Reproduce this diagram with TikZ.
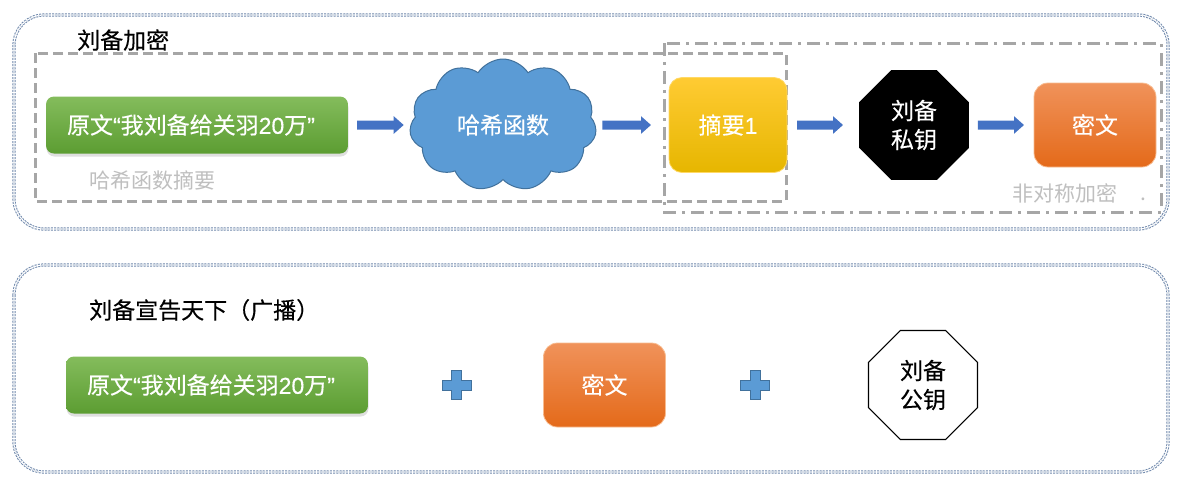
\documentclass[tikz,border=0pt]{standalone}
\usepackage{fontspec}
\setmainfont{Noto Sans CJK SC}[FakeBold=0.3]
\newfontfamily\lat{Liberation Sans}[FakeBold=0.3]
\newfontfamily\cjklight{Noto Sans CJK SC}
\usetikzlibrary{shapes.geometric,shapes.symbols,shadows,arrows.meta}
\definecolor{outerc}{HTML}{6F88AC}
\definecolor{grayline}{HTML}{A6A6A6}
\definecolor{arrowc}{HTML}{4472C4}
\definecolor{cloudfill}{HTML}{5B9BD5}
\definecolor{cloudline}{HTML}{41719C}
\definecolor{gtop}{HTML}{84BC5C}
\definecolor{gbot}{HTML}{5C9D32}
\definecolor{ytop}{HTML}{FFCB33}
\definecolor{ymid}{HTML}{FFC000}
\definecolor{ybot}{HTML}{E6B600}
\definecolor{yline}{HTML}{FFD966}
\definecolor{otop}{HTML}{F0925A}
\definecolor{omid}{HTML}{F07E2C}
\definecolor{obot}{HTML}{E46A1A}
\definecolor{oline}{HTML}{F8BC90}
\definecolor{labelc}{HTML}{BFBFBF}
\tikzset{
  outerbox/.style={draw=outerc, line width=1pt, double=white, double distance=1.2pt,
    dash pattern=on 2pt off 1.2pt, rounded corners=30pt},
  hashbox/.style={draw=grayline, line width=3pt, dash pattern=on 10pt off 5pt},
  asymbox/.style={draw=grayline, line width=3pt, dash pattern=on 13pt off 6pt on 3pt off 6pt},
  greenbox/.style={rounded corners=8pt, top color=gtop, bottom color=gbot, text=white,
    minimum width=302pt, minimum height=57pt, inner sep=0pt, outer sep=0pt,
    drop shadow={shadow xshift=0.5pt, shadow yshift=-3pt, opacity=0.25}},
  yellowbox/.style={rounded corners=13pt, top color=ytop, middle color=ymid, bottom color=ybot,
    draw=yline, line width=0.8pt, text=white, minimum width=118pt, minimum height=95pt,
    inner sep=0pt, outer sep=0pt},
  orangebox/.style={rounded corners=14pt, top color=otop, middle color=omid, bottom color=obot,
    draw=oline, line width=0.8pt, text=white, minimum width=122pt, minimum height=84pt,
    inner sep=0pt, outer sep=0pt},
  cloudnode/.style={cloud, cloud puffs=11, cloud puff arc=115, aspect=1.42,
    minimum width=187pt, minimum height=132pt, inner sep=0pt, outer sep=0pt,
    fill=cloudfill, draw=cloudline, line width=1pt, text=white},
  octblack/.style={regular polygon, regular polygon sides=8, minimum size=119pt,
    inner sep=0pt, outer sep=0pt, fill=black, text=white, align=center},
  octwhite/.style={regular polygon, regular polygon sides=8, minimum size=118pt,
    inner sep=0pt, outer sep=0pt, draw=black, line width=1.1pt, fill=white, text=black, align=center},
  barrow/.style={draw=arrowc, line width=9pt, -{Triangle[width=17pt,length=10pt]}},
  plusshape/.style={fill=cloudfill, draw=cloudline, line width=1pt},
  titletext/.style={text=black, inner sep=0pt, anchor=west},
  graylabel/.style={text=labelc, inner sep=0pt, font=\cjklight\fontsize{21pt}{25pt}\selectfont},
}
\begin{document}
\begin{tikzpicture}[x=1pt,y=-1pt, font=\fontsize{23pt}{29pt}\selectfont]
\useasboundingbox (0,0) rectangle (1185,491);
\fill[white] (0,0) rectangle (1185,491);

% outer frames
\draw[outerbox] (14,15) rectangle (1168,229);
\draw[outerbox] (14,265) rectangle (1168,472);

% inner dashed frames
\draw[hashbox] (35,53) rectangle (786,201);
\draw[asymbox] (664,43) rectangle (1161,212);

% titles
\node[titletext] (t1) at (77,40) {刘备加密};
\node[titletext] (t2) at (89,310) {刘备宣告天下（广播）};

% top row
\node[greenbox] (g1) at (197,125) {原文{\lat “}我刘备给关羽{\lat 20}万{\lat ”}\rule{12pt}{0pt}};
\node[cloudnode] (hf) at (503,125) {哈希函数};
\node[yellowbox] (dg) at (728,125) {摘要{\lat 1}};
\node[octblack] (pk) at (914,125) {刘备\\私钥};
\node[orangebox] (ct) at (1095,125) {密文};

\draw[barrow, shorten <=9pt, shorten >=7pt] (g1.east) -- (hf.west);
\draw[barrow, shorten <=7pt, shorten >=18pt] (hf.east) -- (dg.west);
\draw[barrow, shorten <=10pt, shorten >=16pt] (dg.east) -- (pk.west);
\draw[barrow, shorten <=9pt, shorten >=10pt] (pk.east) -- (ct.west);

\node[graylabel, anchor=west] (l1) at (89,180) {哈希函数摘要};
\node[graylabel, anchor=west] (l2) at (1012,193) {非对称加密};
\node[graylabel, anchor=base] (l3) at (1143,200) {.};

% bottom row
\node[greenbox] (g2) at (217,385) {原文{\lat “}我刘备给关羽{\lat 20}万{\lat ”}\rule{12pt}{0pt}};
\draw[plusshape, shift={(456.5,385)}] (-14.5,-5) -- (-5,-5) -- (-5,-14.5) -- (5,-14.5) -- (5,-5)
  -- (14.5,-5) -- (14.5,5) -- (5,5) -- (5,14.5) -- (-5,14.5) -- (-5,5) -- (-14.5,5) -- cycle;
\node[orangebox] (ct2) at (604.5,385) {密文};
\draw[plusshape, shift={(755,385)}] (-14.5,-5) -- (-5,-5) -- (-5,-14.5) -- (5,-14.5) -- (5,-5)
  -- (14.5,-5) -- (14.5,5) -- (5,5) -- (5,14.5) -- (-5,14.5) -- (-5,5) -- (-14.5,5) -- cycle;
\node[octwhite] (pub) at (923,385) {刘备\\公钥};
\end{tikzpicture}
\end{document}
